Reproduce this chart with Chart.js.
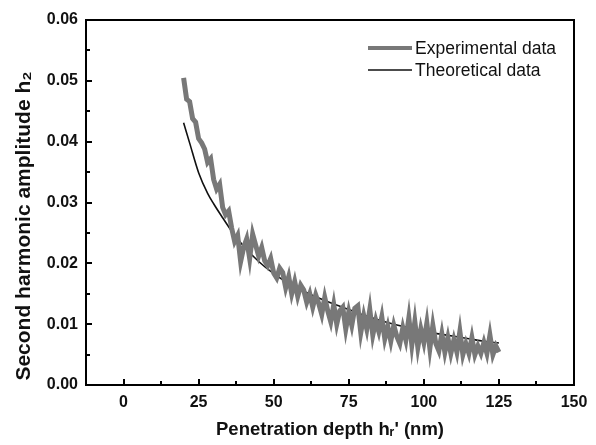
<!DOCTYPE html>
<html>
<head>
<meta charset="utf-8">
<script src="https://cdn.jsdelivr.net/npm/chart.js@4.4.1/dist/chart.umd.min.js"></script>
<style>
  html, body { margin: 0; padding: 0; background: #fff; }
  #wrap { width: 596px; height: 445px; }
</style>
</head>
<body>
<div id="wrap"><canvas id="c" width="596" height="445"></canvas></div>
<script>
const expX = [];
for (let i = 20; i <= 125; i++) expX.push(i);
const expY = [
    0.0505, 0.0470, 0.0466, 0.0438, 0.0432, 0.0405, 0.0398, 0.0388, 0.0366, 0.0372,
    0.0338, 0.0322, 0.0330, 0.0292, 0.0280, 0.0286, 0.0258, 0.0236, 0.0246, 0.0203,
    0.0226, 0.0240, 0.0208, 0.0248, 0.0230, 0.0212, 0.0226, 0.0204, 0.0196, 0.0208,
    0.0184, 0.0176, 0.0192, 0.0185, 0.0160, 0.0178, 0.0150, 0.0170, 0.0146, 0.0164,
    0.0156, 0.0136, 0.0150, 0.0128, 0.0148, 0.0134, 0.0116, 0.0144, 0.0122, 0.0104,
    0.0132, 0.0100, 0.0122, 0.0128, 0.0092, 0.0120, 0.0098, 0.0126, 0.0130, 0.0086,
    0.0114, 0.0092, 0.0124, 0.0082, 0.0106, 0.0088, 0.0112, 0.0076, 0.0096, 0.0072,
    0.0098, 0.0080, 0.0068, 0.0094, 0.0074, 0.0110, 0.0066, 0.0104, 0.0062, 0.0092,
    0.0070, 0.0102, 0.0060, 0.0098, 0.0068, 0.0056, 0.0084, 0.0054, 0.0078, 0.0052,
    0.0074, 0.0054, 0.0088, 0.0050, 0.0068, 0.0052, 0.0078, 0.0050, 0.0064, 0.0052,
    0.0070, 0.0052, 0.0082, 0.0050, 0.0064, 0.0054,
];

// Theoretical curve
const theoX = [20, 22, 25, 28, 30, 33, 36, 40, 45, 50, 55, 60, 65, 70, 75, 80, 85, 90, 95, 100, 105, 110, 115, 120, 125];
const theoY = [0.0431, 0.0398, 0.0349, 0.0315, 0.0298, 0.0275, 0.0253, 0.0228, 0.0203, 0.0183, 0.0167, 0.0154, 0.0143,
    0.0133, 0.0124, 0.0115, 0.0107, 0.0100, 0.0094, 0.0088, 0.0084, 0.0080, 0.0076, 0.0072, 0.0069];

// Axis ticks
const xTicks = [0, 25, 50, 75, 100, 125, 150];
const yTicks = [0, 0.01, 0.02, 0.03, 0.04, 0.05, 0.06];

const FONT = "'Liberation Sans', Arial, sans-serif";
const Y_TITLE = "Second harmonic amplitude h\u2082";

// frame, inward ticks, y title, legend
const framePlugin = {
    id: "frame",
    afterDraw(chart) {
        const ctx = chart.ctx;
        const a = chart.chartArea;
        const xs = chart.scales.x, ys = chart.scales.y;
        ctx.save();
        ctx.strokeStyle = "#000";
        ctx.lineWidth = 2;
        ctx.strokeRect(a.left, a.top, a.right - a.left, a.bottom - a.top);

        ctx.beginPath();
        for (let v = 0; v <= 150; v += 12.5) {
            const px = Math.round(xs.getPixelForValue(v));
            const len = (v % 25 === 0) ? 6 : 4;
            ctx.moveTo(px, a.bottom);
            ctx.lineTo(px, a.bottom - len);
        }
        for (let i = 0; i <= 12; i++) {
            const py = Math.round(ys.getPixelForValue(i * 0.005));
            const len = (i % 2 === 0) ? 6 : 4;
            ctx.moveTo(a.left, py);
            ctx.lineTo(a.left + len, py);
        }
        ctx.stroke();

        // y axis title (sits a bit lower than the plot centre)
        ctx.save();
        ctx.translate(24, 226);
        ctx.rotate(-Math.PI / 2);
        ctx.font = "bold 21px " + FONT;
        ctx.fillStyle = "#111";
        ctx.textAlign = "center";
        ctx.textBaseline = "middle";
        ctx.fillText(Y_TITLE, 0, 0);
        ctx.restore();

        // legend
        const lx0 = 368, lx1 = 412;
        const rows = [
            { ds: chart.data.datasets[0], y: 48 },
            { ds: chart.data.datasets[1], y: 70 },
        ];
        ctx.font = "17.5px " + FONT;
        ctx.textBaseline = "middle";
        ctx.fillStyle = "#111";
        rows.forEach(r => {
            ctx.strokeStyle = r.ds.borderColor;
            ctx.lineWidth = r.ds.legendWidth;
            ctx.beginPath();
            ctx.moveTo(lx0, r.y);
            ctx.lineTo(lx1, r.y);
            ctx.stroke();
            ctx.fillText(r.ds.label, 415, r.y + 1);
        });
        ctx.restore();
    },
};

new Chart(document.getElementById("c"), {
    type: "line",
    data: {
        datasets: [
            {
                label: "Experimental data",
                data: expX.map((x, i) => ({ x: x, y: expY[i] })),
                borderColor: "#787878",
                borderWidth: 5,
                legendWidth: 4,
                pointRadius: 0,
                tension: 0,
            },
            {
                label: "Theoretical data",
                data: theoX.map((x, i) => ({ x: x, y: theoY[i] })),
                borderColor: "#111",
                borderWidth: 1.6,
                legendWidth: 1.4,
                pointRadius: 0,
                cubicInterpolationMode: "monotone",
            },
        ],
    },
    options: {
        responsive: false,
        animation: false,
        layout: { padding: { top: 20, right: 22, left: 0, bottom: 0 } },
        plugins: {
            legend: { display: false },
            tooltip: { enabled: false },
        },
        scales: {
            x: {
                type: "linear",
                min: -12.5,
                max: 150,
                afterBuildTicks: (s) => { s.ticks = xTicks.map(v => ({ value: v })); },
                afterFit: (s) => { s.height = 60; },
                grid: { display: false, drawTicks: false },
                border: { display: false },
                ticks: {
                    padding: 8,
                    color: "#111",
                    font: { family: FONT, size: 16, weight: "bold" },
                    maxRotation: 0,
                },
                title: {
                    display: true,
                    text: "Penetration depth h\u1d63' (nm)",
                    color: "#111",
                    font: { family: FONT, size: 18.5, weight: "bold" },
                    padding: { top: 4 },
                },
            },
            y: {
                type: "linear",
                min: 0,
                max: 0.06,
                afterBuildTicks: (s) => { s.ticks = yTicks.map(v => ({ value: v })); },
                afterFit: (s) => { s.width = 86; },
                grid: { display: false, drawTicks: false },
                border: { display: false },
                ticks: {
                    padding: 8,
                    color: "#111",
                    font: { family: FONT, size: 16, weight: "bold" },
                    callback: (v) => v.toFixed(2),
                },
                title: { display: false },
            },
        },
    },
    plugins: [framePlugin],
});
</script>
</body>
</html>
